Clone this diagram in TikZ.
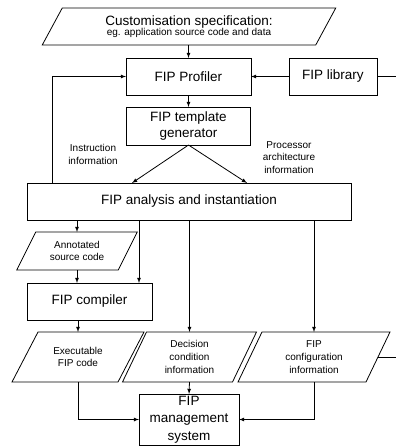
\documentclass[tikz,border=0pt]{standalone}
\usepackage{fontspec}
\setmainfont{Liberation Sans}
\usepackage{tikz}
\usetikzlibrary{calc}
\usetikzlibrary{arrows}
\usetikzlibrary{positioning}

\newcommand{\bigtxt}{\fontsize{13.5}{16.5}\selectfont}
\newcommand{\smalltxt}{\fontsize{10}{12.7}\selectfont}

\begin{document}
\begin{tikzpicture}[x=1pt,y=-1pt]
    \tikzstyle{every node}=[inner sep=0pt,outer sep=0pt,align=center]
    \tikzstyle{every path}=[line width=0.8pt]
    \tikzstyle{box}=[draw=black,font=\bigtxt,minimum height=37pt]
    \tikzstyle{iobox}=[font=\smalltxt,minimum height=50pt]
    \tikzstyle{lbl}=[font=\smalltxt]

    \useasboundingbox (0,0) rectangle (396,448);

    \node[iobox,minimum width=273.5pt,minimum height=37pt] (spec) at (189,26.5)
      {{\bigtxt Customisation specification:}\\[-2pt]eg. application source code and data} ;

    \node[box,minimum width=125pt] (profiler) at (188.5,76.5) {FIP Profiler} ;
    \node[box,minimum width=88pt] (library) at (333,76.5) {FIP library} ;
    \node[box,minimum width=124pt,minimum height=38pt,below=12pt of profiler] (template) {FIP template\\generator} ;

    \node[box,minimum width=324pt] (analysis) at (189,201.5) {FIP analysis and instantiation} ;

    \node[lbl] (instr) at (93,154.5) {Instruction\\information} ;
    \node[lbl] (proc) at (289,157.5) {Processor\\architecture\\information} ;

    \node[iobox,minimum width=101.5pt,minimum height=38pt] (annotated) at (77,251) {Annotated\\source code} ;
    \node[box,minimum width=125pt] (compiler) at (89.5,301.5) {FIP compiler} ;

    \node[iobox,minimum width=106pt] (exec) at (78,357) {Executable\\FIP code} ;
    \node[iobox,minimum width=110pt] (decision) at (189.5,357) {Decision\\condition\\information} ;
    \node[iobox,minimum width=128pt] (config) at (314,357) {FIP\\configuration\\information} ;

    \node[box,minimum width=100pt,minimum height=51pt,font=\fontsize{13.5}{17.5}\selectfont] (manage) at (189,419.5) {FIP\\management\\system} ;

    % slanted data boxes
    \newcommand{\slantframe}[2]{%
      \draw ([xshift=#2]#1.north west) -- ([xshift=#2]#1.north east)
         -- ([xshift=-#2]#1.south east) -- ([xshift=-#2]#1.south west) -- cycle ;}

    \slantframe{spec}{10pt}
    \slantframe{annotated}{9.5pt}
    \slantframe{exec}{13pt}
    \slantframe{decision}{12pt}
    \slantframe{config}{12pt}

    \coordinate (libout) at (396,76.5) ;
    \coordinate (cfgout) at (396,357) ;
    \coordinate (fback) at ([xshift=25pt]analysis.north west) ;
    \coordinate (cin) at ([xshift=-13pt]compiler.north east) ;

    \draw[-latex] (spec.south -| profiler.north) -- (profiler.north) ;
    \draw[-latex] (library.west) -- (profiler.east) ;
    \draw (library.east) -- (libout) ;
    \draw[-latex] (fback) |- (profiler.west) ;
    \draw[-latex] (profiler.south) -- (template.north) ;
    \draw[-latex] (template.south) -- ([xshift=-57pt]analysis.north) ;
    \draw[-latex] (template.south) -- ([xshift=58pt]analysis.north) ;

    \draw[-latex] (analysis.south -| annotated.north) -- (annotated.north) ;
    \draw[-latex] (annotated.south) -- (annotated.south |- compiler.north) ;
    \draw[-latex] (analysis.south -| cin) -- (cin) ;
    \draw[-latex] (compiler.south -| exec.north) -- (exec.north) ;
    \draw[-latex] (analysis.south -| decision.north) -- (decision.north) ;
    \draw[-latex] (analysis.south -| config.north) -- (config.north) ;
    \draw (config.east) -- (cfgout) ;

    \draw[-latex] (decision.south) -- (manage.north) ;
    \draw[-latex] (exec.south) |- (manage.west) ;
    \draw[-latex] (config.south) |- (manage.east) ;

  \end{tikzpicture}
\end{document}
